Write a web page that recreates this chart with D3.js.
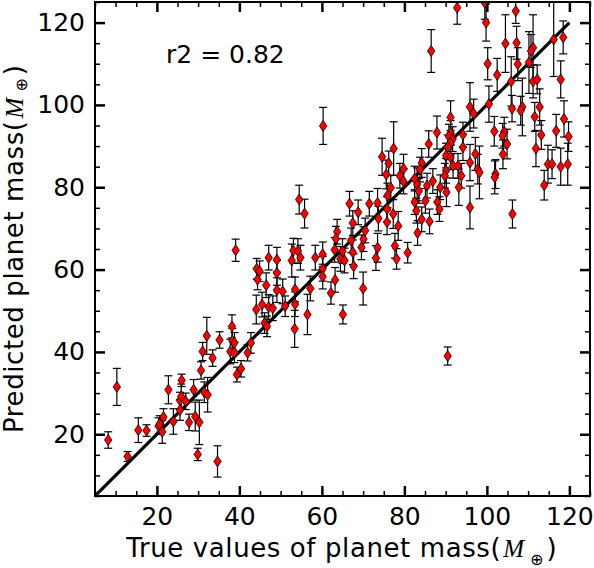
<!DOCTYPE html>
<html>
<head>
<meta charset="utf-8">
<script src="https://cdn.jsdelivr.net/npm/d3@7"></script>
<style>
  body { margin: 0; background: #fff; }
  text { font-family: "DejaVu Sans", sans-serif; fill: #000; }
</style>
</head>
<body>
<svg id="chart" width="594" height="568"></svg>
<script>
// values: true mass, predicted mass, predicted error
var trueMass = [8.2,10.3,12.9,15.5,17.5,20.4,20.7,21.3,21.6,22.8,24.0,25.6,25.6,25.9,26.0,27.0,27.8,28.9,29.3,29.9,
  30.3,30.7,31.1,31.5,32.3,32.1,33.5,34.7,35.2,37.8,38.2,38.3,38.8,38.8,39.4,40.4,42.0,42.8,39.1,44.1,
  45.5,46.1,46.7,47.1,48.1,49.1,50.5,51.1,53.5,53.5,53.4,44.2,44.9,44.4,46.5,47.1,49.1,49.1,52.7,53.1,
  54.2,54.8,54.5,55.8,56.5,57.2,58.4,60.2,60.2,60.2,60.3,62.2,63.2,63.1,64.5,65.0,65.5,67.5,67.7,65.1,
  70.0,63.7,63.4,67.1,67.5,68.8,66.7,69.6,70.1,70.5,71.5,73.5,73.7,73.5,73.1,77.7,78.1,80.8,75.8,75.8,
  75.9,77.3,78.5,76.7,74.6,77.4,76.2,79.8,78.9,75.6,79.8,84.2,83.8,82.5,83.1,83.5,85.5,86.9,88.7,88.0,
  88.5,85.1,84.2,86.1,82.5,82.9,83.2,85.9,87.9,86.5,91.2,91.2,90.8,91.7,91.2,94.2,94.2,90.5,90.1,91.2,
  91.8,93.0,90.1,89.8,90.2,93.8,93.2,95.9,97.2,97.8,98.2,95.9,95.9,96.8,100.5,101.8,104.2,103.8,104.9,103.9,
  102.1,101.9,106.1,108.6,108.2,112.8,111.6,118.7,113.2,116.8,119.8,111.9,106.2,113.9,114.8,115.8,117.9,119.6,90.5,92.8,
  99.5,107.0,99.8,104.5,107.2,111.2,110.7,116.2,118.5,100.2,107.5,110.2,102.5,105.9,111.2,112.2,117.9];

var predMass = [18.6,31.5,14.6,21.0,20.9,22.0,22.5,20.6,24.2,30.8,23.1,25.9,28.2,29.2,33.1,28.0,22.9,30.8,24.3,15.1,
  22.9,35.5,40.1,30.2,29.6,43.9,38.5,13.4,42.9,40.1,46.2,42.7,42.2,39.9,34.5,35.9,39.8,42.2,64.7,50.3,
  51.5,47.0,46.2,50.9,50.6,55.0,54.7,51.1,51.6,55.2,45.6,60.2,59.6,57.6,56.2,62.9,62.4,59.2,62.2,64.6,
  64.5,62.9,77.0,73.6,49.1,55.4,62.9,63.7,60.2,58.3,94.9,54.3,57.5,64.8,62.6,64.5,62.2,64.2,60.8,49.1,
  55.4,69.2,67.5,67.1,71.3,73.9,76.0,65.4,67.4,69.5,76.0,76.2,72.4,65.3,62.8,65.8,62.6,64.1,74.7,71.5,
  78.0,73.5,70.6,79.9,87.4,89.4,85.8,84.5,82.8,83.1,81.4,85.9,84.3,82.1,80.7,79.1,80.4,81.5,80.0,76.4,
  74.7,76.7,72.2,71.7,76.4,74.3,68.9,90.5,93.3,113.1,97.0,93.2,92.3,91.7,90.8,92.8,89.7,89.7,87.7,87.3,
  85.2,85.2,84.0,82.8,78.8,82.8,80.0,86.0,88.1,84.4,83.6,75.1,99.5,97.9,100.2,93.6,93.5,92.5,90.5,88.0,
  83.2,82.4,99.1,99.5,98.6,99.5,97.1,96.6,92.7,93.7,92.3,89.4,73.5,80.5,85.6,85.6,85.0,85.6,39.0,123.6,
  124.8,122.8,120.0,114.9,115.1,113.9,113.1,115.9,116.4,110.0,109.9,110.3,107.3,105.7,105.7,106.2,106.2];

var predErr = [2.0,4.5,1.2,3.0,1.4,2.0,2.0,2.8,2.0,3.4,3.1,2.5,2.0,3.0,1.5,2.0,2.0,2.5,3.5,1.5,
  5.4,2.1,2.2,2.5,4.2,4.5,2.0,3.8,2.0,3.0,2.8,3.0,2.5,2.5,1.8,2.0,2.0,2.5,2.7,3.5,
  3.0,2.5,2.5,3.0,3.0,3.0,3.0,2.5,3.0,3.0,4.5,2.5,2.5,2.5,3.0,3.0,3.0,3.0,4.0,3.0,
  3.0,3.0,3.5,3.5,4.9,3.0,3.0,3.0,3.0,3.0,4.5,2.7,3.0,3.0,3.0,3.0,3.0,3.0,3.0,2.3,
  4.0,3.0,3.0,3.0,3.0,3.0,3.0,3.0,3.0,3.0,3.0,3.5,3.0,3.5,3.0,3.0,2.5,2.5,3.0,3.0,
  3.0,3.5,3.5,3.0,4.5,6.5,3.0,3.5,3.0,3.5,3.0,3.5,3.0,3.0,4.0,3.0,3.0,3.0,3.0,3.0,
  3.0,3.0,3.0,3.0,3.0,3.0,3.0,3.2,4.0,5.2,4.0,3.0,3.0,3.0,3.0,3.0,3.2,3.0,3.0,3.0,
  3.0,3.0,3.0,3.0,3.5,3.0,4.4,4.4,4.0,3.6,6.4,5.2,5.9,3.5,4.4,3.6,3.5,3.0,3.6,3.5,
  3.5,4.0,3.2,7.0,3.5,4.4,3.5,4.4,3.5,4.0,3.6,4.4,3.4,3.6,4.6,3.5,4.5,5.1,2.2,4.0,
  4.0,3.0,4.5,7.0,4.0,8.0,4.0,9.0,4.0,3.9,4.0,7.5,4.0,6.0,4.0,3.5,4.5];

var majorTicks = [20, 40, 60, 80, 100, 120];
var minorTicks = [5, 10, 15, 25, 30, 35, 45, 50, 55, 65, 70, 75, 85, 90, 95, 105, 110, 115, 125];
var fitLine = [5, 120];
var r2Text = "r2 = 0.82";

var svg = d3.select("#chart");
var mLeft = 95, mRight = 590, mTop = 2, mBottom = 496;

var x = d3.scaleLinear().domain([5, 125]).range([mLeft, mRight]);
var y = d3.scaleLinear().domain([5, 125]).range([mBottom, mTop]);

var points = trueMass.map(function(d, i) {
  return {tx: d, py: predMass[i], err: predErr[i]};
});

svg.append("clipPath").attr("id", "plotclip")
  .append("rect")
    .attr("x", mLeft).attr("y", mTop)
    .attr("width", mRight - mLeft).attr("height", mBottom - mTop);

var plot = svg.append("g").attr("clip-path", "url(#plotclip)");

// y = x line
plot.append("line")
  .attr("x1", x(fitLine[0])).attr("y1", y(fitLine[0]))
  .attr("x2", x(fitLine[1])).attr("y2", y(fitLine[1]))
  .attr("stroke", "#000")
  .attr("stroke-width", 3.2);

// error bars
var bars = plot.selectAll(".errbar")
  .data(points)
  .enter()
  .append("g")
    .classed("errbar", true)
    .attr("stroke", "#000")
    .attr("stroke-width", 1.2);

bars.append("line")
  .attr("x1", function(d) { return x(d.tx); })
  .attr("x2", function(d) { return x(d.tx); })
  .attr("y1", function(d) { return y(d.py - d.err); })
  .attr("y2", function(d) { return y(d.py + d.err); });

bars.append("line")
  .attr("x1", function(d) { return x(d.tx) - 4; })
  .attr("x2", function(d) { return x(d.tx) + 4; })
  .attr("y1", function(d) { return y(d.py - d.err); })
  .attr("y2", function(d) { return y(d.py - d.err); });

bars.append("line")
  .attr("x1", function(d) { return x(d.tx) - 4; })
  .attr("x2", function(d) { return x(d.tx) + 4; })
  .attr("y1", function(d) { return y(d.py + d.err); })
  .attr("y2", function(d) { return y(d.py + d.err); });

// thin red diamonds
plot.selectAll(".marker")
  .data(points)
  .enter()
  .append("path")
    .classed("marker", true)
    .attr("d", "M0,-5.5L3.7,0L0,5.5L-3.7,0Z")
    .attr("transform", function(d) {
      return "translate(" + x(d.tx) + "," + y(d.py) + ")";
    })
    .attr("fill", "#ff0000")
    .attr("stroke", "#000")
    .attr("stroke-width", 0.8);

// frame
svg.append("rect")
  .attr("x", mLeft).attr("y", mTop)
  .attr("width", mRight - mLeft).attr("height", mBottom - mTop)
  .attr("fill", "none")
  .attr("stroke", "#000")
  .attr("stroke-width", 2);

// ticks on all four sides, pointing in
function drawAxis(gen, tr, vals, size, width, labels) {
  var g = svg.append("g")
    .attr("transform", tr)
    .call(gen.tickValues(vals).tickSizeInner(-size).tickSizeOuter(0)
      .tickPadding(labels ? 10 : 0)
      .tickFormat(labels ? d3.format("d") : ""));
  g.select(".domain").remove();
  g.selectAll(".tick line").attr("stroke", "#000").attr("stroke-width", width);
  g.selectAll(".tick text")
    .style("font-family", "'DejaVu Sans', sans-serif")
    .style("font-size", "25px")
    .attr("fill", "#000");
  return g;
}

drawAxis(d3.axisBottom(x), "translate(0," + mBottom + ")", majorTicks, 10, 2.5, true)
  .selectAll(".tick text").attr("y", 11);
drawAxis(d3.axisBottom(x), "translate(0," + mBottom + ")", minorTicks, 5, 1.5, false);
drawAxis(d3.axisTop(x), "translate(0," + mTop + ")", majorTicks, 10, 2.5, false);
drawAxis(d3.axisTop(x), "translate(0," + mTop + ")", minorTicks, 5, 1.5, false);
drawAxis(d3.axisLeft(y), "translate(" + mLeft + ",0)", majorTicks, 10, 2.5, true);
drawAxis(d3.axisLeft(y), "translate(" + mLeft + ",0)", minorTicks, 5, 1.5, false);
drawAxis(d3.axisRight(y), "translate(" + mRight + ",0)", majorTicks, 10, 2.5, false);
drawAxis(d3.axisRight(y), "translate(" + mRight + ",0)", minorTicks, 5, 1.5, false);

// axis titles with the math M_earth part
function massLabel(t, text, subShift) {
  t.style("font-size", "26px");
  t.append("tspan").style("letter-spacing", "0.6px").text(text);
  t.append("tspan")
    .style("font-family", "'Liberation Serif', serif")
    .style("font-style", "italic")
    .style("font-size", "25px")
    .attr("dx", 2)
    .text("M");
  t.append("tspan")
    .style("font-family", "'DejaVu Sans', sans-serif")
    .style("font-size", "16px")
    .attr("dx", 6)
    .attr("dy", subShift)
    .text("\u2295");
  t.append("tspan")
    .attr("dx", 3)
    .attr("dy", -subShift)
    .text(")");
}

svg.append("text")
  .attr("x", (mLeft + mRight) / 2 - 1)
  .attr("y", 557)
  .attr("text-anchor", "middle")
  .call(massLabel, "True values of planet mass(", 8);

svg.append("text")
  .attr("transform", "translate(23," + ((mTop + mBottom) / 2) + ") rotate(-90)")
  .attr("text-anchor", "middle")
  .call(massLabel, "Predicted planet mass(", 4);

svg.append("text")
  .attr("x", 166)
  .attr("y", 63)
  .style("font-size", "25px")
  .text(r2Text);
</script>
</body>
</html>
